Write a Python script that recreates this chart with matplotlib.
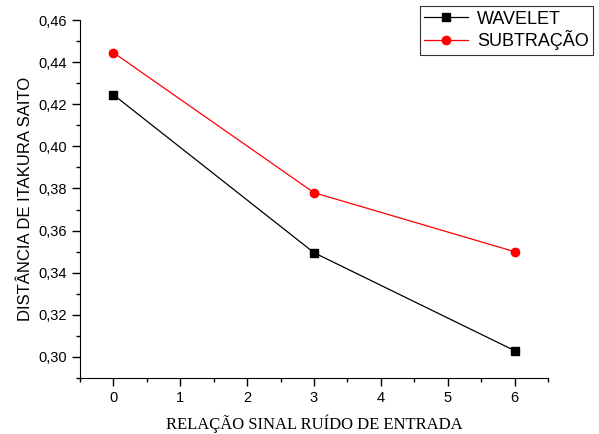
import numpy as np
import matplotlib.pyplot as plt
from matplotlib.ticker import MultipleLocator, FuncFormatter

snr = [0, 3, 6]
wavelet = [0.4245, 0.3495, 0.303]
subtracao = [0.4445, 0.378, 0.350]

plt.rcParams['font.family'] = 'Liberation Sans'

fig = plt.figure(figsize=(5.99, 4.34), dpi=100)
ax = fig.add_axes([80/599, 56/434, 468/599, 358/434])

ax.plot(snr, wavelet, color='black', lw=0.9, marker='s', ms=5.2, label='WAVELET')
ax.plot(snr, subtracao, color='red', lw=0.9, marker='o', ms=6, label='SUBTRAÇÃO')

ax.set_xlim(-0.5, 6.5)
ax.set_ylim(0.29, 0.46)
ax.xaxis.set_major_locator(MultipleLocator(1))
ax.xaxis.set_minor_locator(MultipleLocator(0.5))
ax.yaxis.set_major_locator(MultipleLocator(0.02))
ax.yaxis.set_minor_locator(MultipleLocator(0.01))
ax.yaxis.set_major_formatter(FuncFormatter(lambda v, p: f'{v:.2f}'.replace('.', ',')))
ax.tick_params(which='both', direction='out', width=1, labelsize=10.5)
ax.tick_params(which='major', length=6)
ax.tick_params(which='minor', length=3)
for s in ['top', 'right']:
    ax.spines[s].set_visible(False)

ax.set_ylabel('DISTÂNCIA DE ITAKURA SAITO', fontsize=12)
ax.set_xlabel('RELAÇÃO SINAL RUÍDO DE ENTRADA', fontsize=12, family='Liberation Serif', labelpad=7)

leg = ax.legend(loc='upper right', bbox_to_anchor=(593/599, 428/434), bbox_transform=fig.transFigure,
                fontsize=13, frameon=True, fancybox=False, edgecolor='black',
                handlelength=2.4, handletextpad=0.5, borderpad=0.25, labelspacing=0.15,
                borderaxespad=0)
leg.get_frame().set_linewidth(0.8)

fig.savefig('out.png', dpi=100)
